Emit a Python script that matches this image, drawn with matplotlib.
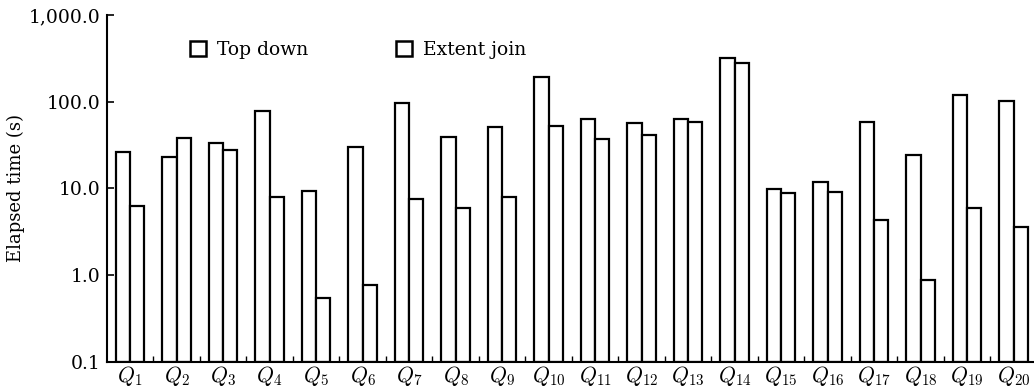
import numpy as np
import matplotlib
matplotlib.use("Agg")
import matplotlib.pyplot as plt
from matplotlib.patches import Patch
from matplotlib.ticker import FixedLocator, NullFormatter

plt.rcParams["font.family"] = "DejaVu Serif"
plt.rcParams["mathtext.fontset"] = "cm"

queries = [f"$Q_{{{i}}}$" for i in range(1, 21)]
top_down = [26.4, 22.8, 33.0, 78.0, 9.3, 30.2, 97.0, 38.7, 51.4, 194.0,
            63.0, 57.0, 62.5, 321.0, 9.9, 11.7, 57.7, 24.2, 121.0, 102.0]
extent_join = [6.25, 37.7, 27.7, 8.0, 0.54, 0.77, 7.5, 5.9, 8.0, 52.7,
               36.7, 41.2, 57.7, 276.0, 8.75, 9.1, 4.3, 0.875, 5.9, 3.55]
y_ticks = [0.1, 1, 10, 100, 1000]
y_tick_labels = ["0.1", "1.0", "10.0", "100.0", "1,000.0"]

fig = plt.figure(figsize=(10.34, 3.88), dpi=100)
ax = fig.add_axes([0.1035, 0.0678, 0.8965, 0.8935])

x = np.arange(len(queries))
w = 0.31
bar_style = dict(facecolor="white", edgecolor="black", linewidth=1.6, bottom=0.1)
ax.bar(x - w / 2, np.array(top_down) - 0.1, w, **bar_style)
ax.bar(x + w / 2, np.array(extent_join) - 0.1, w, **bar_style)

ax.set_yscale("log")
ax.set_ylim(0.1, 1000)
ax.set_xlim(-0.495, 19.44)
ax.yaxis.set_major_locator(FixedLocator(y_ticks))
ax.set_yticklabels(y_tick_labels, fontsize=13.5)
ax.yaxis.set_minor_formatter(NullFormatter())
ax.tick_params(axis="y", which="minor", length=0)
ax.tick_params(axis="y", which="major", direction="in", length=5, width=1.2, pad=5)

ax.set_xticks(x)
ax.set_xticklabels(queries, fontsize=15.5)
ax.tick_params(axis="x", which="major", length=0, pad=2)
ax.set_xticks(x[:-1] + 0.5, minor=True)
ax.tick_params(axis="x", which="minor", direction="in", length=4, width=1.0)

for s in ("top", "right"):
    ax.spines[s].set_visible(False)
for s in ("left", "bottom"):
    ax.spines[s].set_linewidth(1.5)

ax.set_ylabel("Elapsed time (s)", fontsize=13)
ax.yaxis.set_label_coords(-0.088, 0.5)

handles = [Patch(facecolor="white", edgecolor="black", linewidth=1.8, label="Top down"),
           Patch(facecolor="white", edgecolor="black", linewidth=1.8, label="Extent join")]
ax.legend(handles=handles, loc="center left", bbox_to_anchor=(0.0895, 0.899),
          ncol=2, frameon=False, fontsize=13.5, handlelength=0.85, handleheight=0.85,
          handletextpad=0.6, columnspacing=4.65, borderpad=0, borderaxespad=0)

fig.savefig("out.png", dpi=100)
